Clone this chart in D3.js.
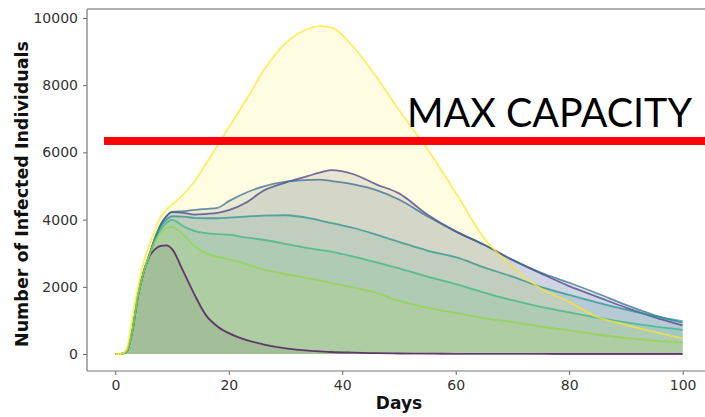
<!DOCTYPE html>
<html>
<head>
<meta charset="utf-8">
<script src="https://cdn.jsdelivr.net/npm/d3@7"></script>
<style>
  body { margin: 0; background: #fff; }
  svg { display: block; }
</style>
</head>
<body>
<svg id="chart" width="705" height="417"></svg>
<script>
// Simulated epidemic curves: infected individuals per day for seven scenarios
const days = [0, 1, 2, 3, 4, 5, 6, 7, 8, 9, 10, 12, 14, 16, 18, 20, 23, 26, 30, 34, 36, 38, 42, 46, 50, 55, 60, 65, 70, 75, 80, 85, 90, 95, 100];

const scenarioA = [0, 0, 80, 700, 1750, 2450, 2900, 3120, 3220, 3230, 3120, 2450, 1750, 1150, 820, 620, 420, 290, 170, 100, 80, 60, 40, 25, 15, 10, 5, 3, 2, 1, 0, 0, 0, 0, 0];
const scenarioB = [0, 0, 80, 700, 1750, 2450, 2950, 3450, 3850, 4100, 4220, 4200, 4150, 4170, 4200, 4280, 4500, 4850, 5100, 5300, 5400, 5470, 5350, 5050, 4780, 4150, 3650, 3250, 2800, 2400, 2020, 1700, 1380, 1100, 850];
const scenarioC = [0, 0, 80, 700, 1750, 2450, 2950, 3450, 3850, 4100, 4230, 4250, 4290, 4320, 4350, 4550, 4800, 4980, 5130, 5180, 5190, 5150, 5050, 4880, 4600, 4100, 3650, 3250, 2800, 2420, 2120, 1800, 1460, 1160, 930];
const scenarioD = [0, 0, 80, 700, 1750, 2450, 2950, 3450, 3800, 4000, 4100, 4090, 4050, 4040, 4040, 4060, 4090, 4120, 4130, 4050, 3980, 3900, 3750, 3550, 3340, 3080, 2880, 2580, 2300, 2000, 1760, 1530, 1320, 1130, 980];
const scenarioE = [0, 0, 80, 700, 1750, 2450, 2950, 3400, 3700, 3900, 3990, 3800, 3660, 3600, 3570, 3550, 3470, 3400, 3280, 3150, 3100, 3050, 2900, 2730, 2550, 2300, 2080, 1830, 1600, 1400, 1240, 1080, 940, 820, 720];
const scenarioF = [0, 0, 80, 700, 1750, 2450, 2950, 3350, 3600, 3750, 3780, 3550, 3200, 3000, 2900, 2820, 2680, 2520, 2380, 2260, 2190, 2120, 1980, 1820, 1580, 1380, 1220, 1070, 950, 820, 700, 580, 480, 400, 340];
const scenarioG = [0, 0, 150, 1100, 2000, 2750, 3250, 3700, 4090, 4300, 4450, 4750, 5150, 5680, 6200, 6750, 7550, 8400, 9250, 9680, 9760, 9720, 9130, 8250, 7260, 6100, 4800, 3450, 2600, 1950, 1550, 1100, 870, 660, 470];

const seriesColors = ["#440154", "#443983", "#31688e", "#21918c", "#35b779", "#90d743", "#fde725"];

const xTicks = [0, 20, 40, 60, 80, 100];
const yTicks = [0, 2000, 4000, 6000, 8000, 10000];

const capacityLevel = 6340;
const capacityLabel = "MAX CAPACITY";
const xTitle = "Days";
const yTitle = "Number of Infected Individuals";

const series = [scenarioA, scenarioB, scenarioC, scenarioD, scenarioE, scenarioF, scenarioG]
  .map((vals, i) => ({ color: seriesColors[i], points: days.map((d, j) => [d, vals[j]]) }));

const svg = d3.select("#chart");
const plot = { left: 87, right: 711, top: 9, bottom: 371 };

const x = d3.scaleLinear().domain([-5, 105]).range([plot.left, plot.right]);
const y = d3.scaleLinear().domain([-506, 10268]).range([plot.bottom, plot.top]);

const area = d3.area()
  .x(d => x(d[0]))
  .y0(y(0))
  .y1(d => y(d[1]))
  .curve(d3.curveMonotoneX);

const line = d3.line()
  .x(d => x(d[0]))
  .y(d => y(d[1]))
  .curve(d3.curveMonotoneX);

const g = svg.append("g");

// shaded areas under each curve
g.selectAll("path.area")
  .data(series)
  .join("path")
  .attr("class", "area")
  .attr("d", d => area(d.points))
  .attr("fill", d => d.color)
  .attr("fill-opacity", 0.135);

// curve outlines
g.selectAll("path.curve")
  .data(series)
  .join("path")
  .attr("class", "curve")
  .attr("d", d => line(d.points))
  .attr("fill", "none")
  .attr("stroke", d => d.color)
  .attr("stroke-opacity", 0.72)
  .attr("stroke-width", 1.8);

// axes
const fmt = d3.format("d");
const xAxis = d3.axisBottom(x).tickValues(xTicks).tickFormat(fmt).tickSize(4).tickPadding(5);
const yAxis = d3.axisLeft(y).tickValues(yTicks).tickFormat(fmt).tickSize(4).tickPadding(5);

const gx = svg.append("g").attr("transform", `translate(0,${plot.bottom})`).call(xAxis);
const gy = svg.append("g").attr("transform", `translate(${plot.left},0)`).call(yAxis);

[gx, gy].forEach(ax => {
  ax.select(".domain").remove();
  ax.selectAll("line").attr("stroke", "#666").attr("stroke-width", 1);
  ax.selectAll("text")
    .attr("fill", "#333")
    .style("font-family", "DejaVu Sans, sans-serif")
    .style("font-size", "14px");
});

// frame
svg.append("line").attr("x1", plot.left).attr("x2", plot.left).attr("y1", plot.top).attr("y2", plot.bottom)
  .attr("stroke", "#777").attr("stroke-width", 1.2);
svg.append("line").attr("x1", plot.left).attr("x2", plot.right).attr("y1", plot.bottom).attr("y2", plot.bottom)
  .attr("stroke", "#777").attr("stroke-width", 1.2);
svg.append("line").attr("x1", plot.left).attr("x2", plot.right).attr("y1", plot.top).attr("y2", plot.top)
  .attr("stroke", "#999").attr("stroke-width", 1.5);

// axis titles
svg.append("text")
  .attr("x", (x(0) + x(100)) / 2)
  .attr("y", 409)
  .attr("text-anchor", "middle")
  .style("font-family", "DejaVu Sans, sans-serif")
  .style("font-weight", "bold")
  .style("font-size", "17px")
  .attr("fill", "#111")
  .text(xTitle);

svg.append("text")
  .attr("transform", `translate(28,${(y(0) + y(10000)) / 2 + 8}) rotate(-90)`)
  .attr("text-anchor", "middle")
  .style("font-family", "DejaVu Sans, sans-serif")
  .style("font-weight", "bold")
  .style("font-size", "17.5px")
  .attr("fill", "#111")
  .text(yTitle);

// capacity threshold
const capY = y(capacityLevel);
svg.append("rect")
  .attr("x", x(-2))
  .attr("y", capY - 4)
  .attr("width", 705 - x(-2))
  .attr("height", 8)
  .attr("fill", "#ff0000");

svg.append("text")
  .attr("x", 407)
  .attr("y", 127)
  .attr("textLength", 285)
  .attr("lengthAdjust", "spacingAndGlyphs")
  .style("font-family", "Lato, 'Open Sans', sans-serif")
  .style("font-size", "40px")
  .attr("fill", "#000")
  .text(capacityLabel);
</script>
</body>
</html>
